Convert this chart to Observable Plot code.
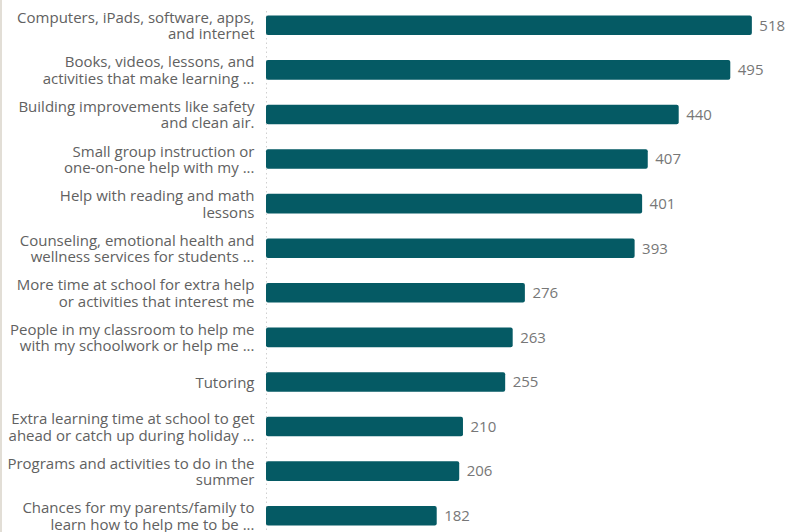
<!DOCTYPE html>
<html>
<head>
<meta charset="utf-8">
<script src="https://cdn.jsdelivr.net/npm/d3@7"></script>
<script src="https://cdn.jsdelivr.net/npm/@observablehq/plot@0.6"></script>
<style>
  html, body { margin: 0; padding: 0; background: #fff; }
  #wrap { position: relative; width: 786px; height: 532px; overflow: hidden; }
  #edge { position: absolute; left: 0; top: 0; width: 2px; height: 532px; background: #e2ded6; }
</style>
</head>
<body>
<div id="wrap"><div id="edge"></div></div>
<script>
const categories = [
  "Computers, iPads, software, apps,\nand internet",
  "Books, videos, lessons, and\nactivities that make learning ...",
  "Building improvements like safety\nand clean air.",
  "Small group instruction or\none-on-one help with my ...",
  "Help with reading and math\nlessons",
  "Counseling, emotional health and\nwellness services for students ...",
  "More time at school for extra help\nor activities that interest me",
  "People in my classroom to help me\nwith my schoolwork or help me ...",
  "Tutoring",
  "Extra learning time at school to get\nahead or catch up during holiday ...",
  "Programs and activities to do in the\nsummer",
  "Chances for my parents/family to\nlearn how to help me to be ..."
];
const values = [518, 495, 440, 407, 401, 393, 276, 263, 255, 210, 206, 182];

const data = categories.map((c, i) => ({category: c, value: values[i]}));

const chart = Plot.plot({
  width: 786,
  height: 532,
  marginLeft: 266,
  marginRight: 13.5,
  marginTop: 11,
  marginBottom: 2,
  style: {fontFamily: "'Open Sans', sans-serif", background: "transparent"},
  x: {domain: [0, 540], axis: null},
  y: {domain: categories, axis: null, paddingInner: 0.56, paddingOuter: 0.1, round: false},
  marks: [
    Plot.ruleX([0], {stroke: "#d0d0d0", strokeDasharray: "1.5,3", strokeWidth: 1}),
    Plot.barX(data, {x: "value", y: "category", fill: "#055a64", rx: 2}),
    Plot.text(data, {
      x: "value", y: "category", text: d => String(d.value),
      textAnchor: "start", dx: 7, fontSize: 15, fill: "#777777"
    }),
    Plot.text(data, {
      y: "category", text: "category", frameAnchor: "left",
      textAnchor: "end", dx: -12, fontSize: 15, lineHeight: 1.1, fill: "#616161"
    })
  ]
});
document.getElementById("wrap").appendChild(chart);
</script>
</body>
</html>
